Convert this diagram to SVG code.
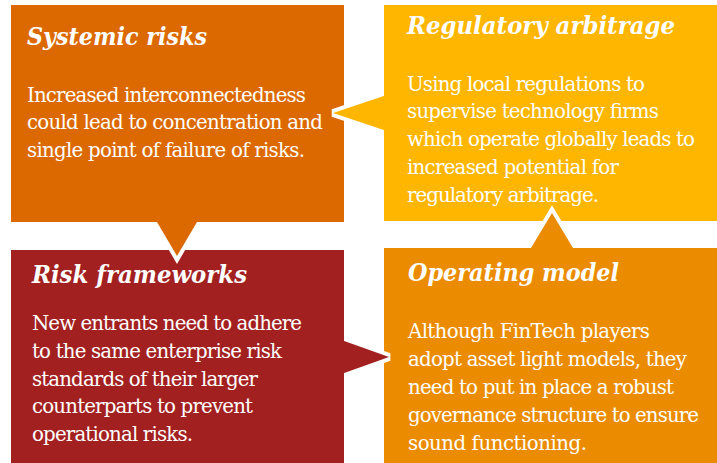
<svg xmlns="http://www.w3.org/2000/svg" width="717" height="463" viewBox="0 0 717 463">
<style>
.bg{fill:#ffffff}
.t{font-family:"DejaVu Serif","Liberation Serif",serif;font-size:24px;font-weight:bold;font-style:italic;fill:#ffffff}
.b{font-family:"DejaVu Serif","Liberation Serif",serif;font-size:19.8px;fill:#ffffff}
.edge{fill:none;stroke:#ffffff;stroke-width:8;stroke-linejoin:miter;stroke-miterlimit:2.1}
.c1{fill:#DC6900}.c2{fill:#FFB600}.c3{fill:#A32020}.c4{fill:#EB8C00}
</style>
<rect class="bg" x="0" y="0" width="717" height="463"/>
<g id="systemic-risks">
<rect class="c1" x="11" y="5" width="333" height="217"/>
<text class="t" x="27" y="45" textLength="180" lengthAdjust="spacingAndGlyphs">Systemic risks</text>
<text class="b" x="27" y="101.7" textLength="279">Increased interconnectedness</text>
<text class="b" x="27" y="129.3" textLength="296">could lead to concentration and</text>
<text class="b" x="27" y="156.9" textLength="278">single point of failure of risks.</text>
</g>
<g id="regulatory-arbitrage">
<rect class="c2" x="384" y="5" width="333" height="216"/>
<text class="t" x="407" y="34" textLength="268" lengthAdjust="spacingAndGlyphs">Regulatory arbitrage</text>
<text class="b" x="407" y="90.7" textLength="238">Using local regulations to</text>
<text class="b" x="407" y="118.4" textLength="252">supervise technology firms</text>
<text class="b" x="407" y="146.1" textLength="288">which operate globally leads to</text>
<text class="b" x="407" y="173.8" textLength="212">increased potential for</text>
<text class="b" x="407" y="201.5" textLength="192">regulatory arbitrage.</text>
</g>
<g id="risk-frameworks">
<rect class="c3" x="11" y="250" width="333" height="213"/>
<text class="t" x="32" y="283.3" textLength="215" lengthAdjust="spacingAndGlyphs">Risk frameworks</text>
<text class="b" x="32" y="330" textLength="270">New entrants need to adhere</text>
<text class="b" x="32" y="357.8" textLength="250">to the same enterprise risk</text>
<text class="b" x="32" y="385.6" textLength="226">standards of their larger</text>
<text class="b" x="32" y="413.4" textLength="221">counterparts to prevent</text>
<text class="b" x="32" y="441.2" textLength="161">operational risks.</text>
</g>
<g id="operating-model">
<rect class="c4" x="384" y="248" width="333" height="215"/>
<text class="t" x="408" y="280.7" textLength="211" lengthAdjust="spacingAndGlyphs">Operating model</text>
<text class="b" x="408" y="338.3" textLength="242">Although FinTech players</text>
<text class="b" x="408" y="366.2" textLength="279">adopt asset light models, they</text>
<text class="b" x="408" y="394.1" textLength="266">need to put in place a robust</text>
<text class="b" x="408" y="422" textLength="291">governance structure to ensure</text>
<text class="b" x="408" y="449.9" textLength="179">sound functioning.</text>
</g>
<g id="connectors">
<polyline class="edge" points="158.8,225 177,256 195.2,225"/>
<polygon class="c1" points="156.7,221.5 197.3,221.5 177,256"/>
<polyline class="edge" points="381,97 333,113 381,129"/>
<polygon class="c2" points="384.5,95.8 384.5,130.2 333,113"/>
<polyline class="edge" points="347,342.1 389,357 347,371.9"/>
<polygon class="c3" points="343.5,340.8 343.5,373.2 389,357"/>
<polyline class="edge" points="532.8,245 552,213 571.2,245"/>
<polygon class="c4" points="530.7,248.5 573.3,248.5 552,213"/>
</g>
</svg>
